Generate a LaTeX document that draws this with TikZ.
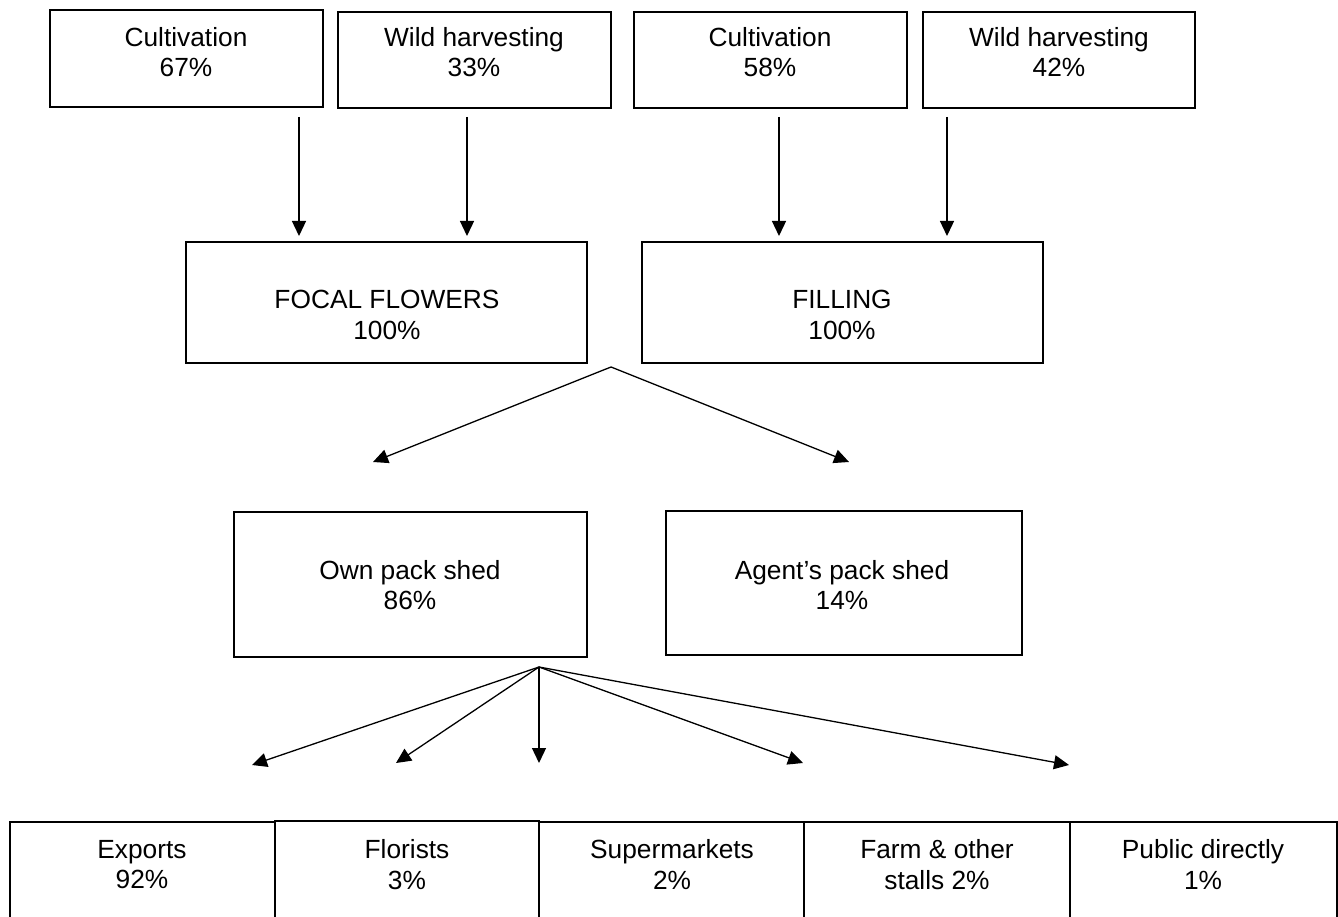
\documentclass[tikz,border=0pt]{standalone}
\usepackage{fontspec}
\setmainfont{Liberation Sans}
\usetikzlibrary{arrows.meta}
\begin{document}
\begin{tikzpicture}[x=1pt,y=-1pt,
  box/.style={draw, line width=1.6pt, inner sep=0pt, outer sep=0pt, anchor=north west},
  lbl/.style={align=center, inner sep=0pt, font=\fontsize{26.3}{30.2}\selectfont},
  arr/.style={line width=1.3pt, -{Triangle[length=15pt,width=14pt]}}]
\useasboundingbox[fill=white] (0,0) rectangle (1338,917);
\clip (0,0) rectangle (1338,917);
% top row
\node[box, minimum width=273pt, minimum height=97pt] (c1) at (50,10) {};
\node[box, minimum width=273pt, minimum height=96pt] (w1) at (338,12) {};
\node[box, minimum width=273pt, minimum height=96pt] (c2) at (634,12) {};
\node[box, minimum width=272pt, minimum height=96pt] (w2) at (923,12) {};
\node[lbl] (tc1) at (186,52) {Cultivation\\67\%};
\node[lbl] (tw1) at (474,52) {Wild harvesting\\33\%};
\node[lbl] (tc2) at (770,52) {Cultivation\\58\%};
\node[lbl] (tw2) at (1059,52) {Wild harvesting\\42\%};
% second row
\node[box, minimum width=401pt, minimum height=121pt] (ff) at (186,242) {};
\node[box, minimum width=401pt, minimum height=121pt] (fi) at (642,242) {};
\node[lbl] (tff) at (387,315) {FOCAL FLOWERS\\100\%};
\node[lbl] (tfi) at (842,315) {FILLING\\100\%};
% third row
\node[box, minimum width=353pt, minimum height=145pt] (own) at (234,512) {};
\node[box, minimum width=356pt, minimum height=144pt] (ag) at (666,511) {};
\node[lbl] (town) at (410,585) {Own pack shed\\86\%};
\node[lbl] (tag) at (842,585) {Agent’s pack shed\\14\%};
% bottom row
\node[box, minimum width=265pt, minimum height=110pt] (ex) at (10,822) {};
\node[box, minimum width=264pt, minimum height=111pt] (fl) at (275,821) {};
\node[box, minimum width=265pt, minimum height=110pt] (su) at (539,822) {};
\node[box, minimum width=266pt, minimum height=110pt] (fa) at (804,822) {};
\node[box, minimum width=267pt, minimum height=110pt] (pu) at (1070,822) {};
\node[lbl] (tex) at (142,864.5) {Exports\\92\%};
\node[lbl] (tfl) at (407,864.5) {Florists\\3\%};
\node[lbl] (tsu) at (672,864.5) {Supermarkets\\2\%};
\node[lbl] (tfa) at (937,864.5) {Farm \& other\\stalls 2\%};
\node[lbl] (tpu) at (1203,864.5) {Public directly\\1\%};
% connector coordinates
\coordinate (s1) at (299,117); \coordinate (e1) at (299,236);
\coordinate (s2) at (467,117); \coordinate (e2) at (467,236);
\coordinate (s3) at (779,117); \coordinate (e3) at (779,236);
\coordinate (s4) at (947,117); \coordinate (e4) at (947,236);
\coordinate (ap1) at (611,367);
\coordinate (l1) at (373,462); \coordinate (r1) at (849,462);
\coordinate (ap2) at (539,667);
\coordinate (d1) at (252,765); \coordinate (d2) at (396,763);
\coordinate (d3) at (539,763); \coordinate (d4) at (803,763);
\coordinate (d5) at (1069,765);
% connectors
\draw[arr] (s1) -- (e1);
\draw[arr] (s2) -- (e2);
\draw[arr] (s3) -- (e3);
\draw[arr] (s4) -- (e4);
\draw[arr] (ap1) -- (l1);
\draw[arr] (ap1) -- (r1);
\draw[arr] (ap2) -- (d1);
\draw[arr] (ap2) -- (d2);
\draw[arr] (ap2) -- (d3);
\draw[arr] (ap2) -- (d4);
\draw[arr] (ap2) -- (d5);
\end{tikzpicture}
\end{document}
